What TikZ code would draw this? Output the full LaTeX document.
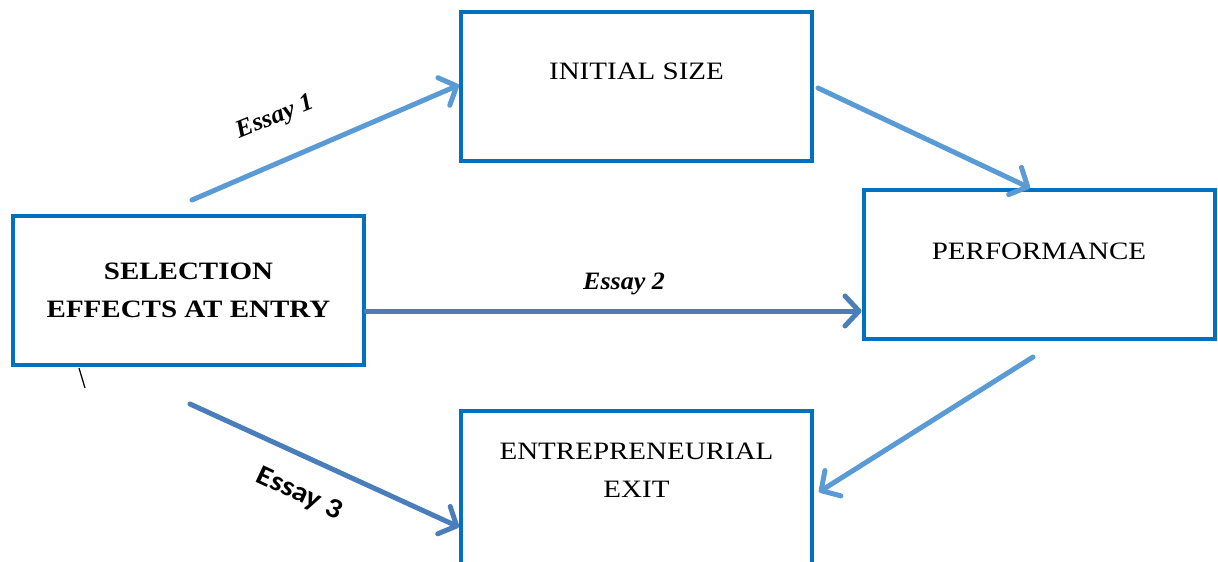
\documentclass[tikz,border=0pt]{standalone}
\usepackage{fontspec}
\setmainfont{Liberation Serif}[FakeStretch=1.16]
\newfontfamily\essayserif{Liberation Serif}[FakeStretch=1.04]
\newfontfamily\essaysans{Carlito}[FakeStretch=1.1]
\usetikzlibrary{positioning, arrows.meta}
\definecolor{frameblue}{RGB}{0, 112, 192}
\definecolor{pathlight}{RGB}{91, 155, 213}
\definecolor{pathdark}{RGB}{74, 126, 187}

\tikzset{
    stagebox/.style={draw=frameblue, line width=4pt, fill=white, align=center,
                     minimum width=351pt, minimum height=149pt, inner sep=0pt,
                     font=\fontsize{25}{38}\selectfont},
    link/.style={line width=5pt, line cap=round,
                 -{Straight Barb[length=14pt, width=30pt, line cap=round, line join=round]}},
    essaylabel/.style={font=\fontsize{25}{30}\selectfont\essayserif\bfseries\itshape, inner sep=0pt}
}

\begin{document}
\begin{tikzpicture}[x=1pt, y=-1pt]
        \useasboundingbox (0,0) rectangle (1218,562);
        % boxes
        \node[stagebox, font=\fontsize{25}{38}\selectfont\bfseries] (selection) at (188.5,290) {SELECTION\\EFFECTS AT ENTRY};
        \node[stagebox, text depth=30pt] (initsize) at (636.5,86) {INITIAL SIZE};
        \node[stagebox, text depth=27pt] (performance) at (1039,264.5) {PERFORMANCE};
        \node[stagebox, minimum height=162pt, text depth=44pt] (exit) at (636.5,492) {ENTREPRENEURIAL\\EXIT};
        % arrows
        \coordinate (essay1from) at (192,200);
        \coordinate (perfout) at (1033,357);
        \coordinate (essay3from) at (190,404);
        \draw[link, pathlight] (essay1from) -- ([yshift=1pt]initsize.west);
        \draw[link, pathlight] ([shift={(4pt,-2pt)}]initsize.east) -- ([xshift=-9pt]performance.north);
        \draw[link, pathdark] ([yshift=-21pt]selection.east) -- ([yshift=-21pt]selection.east -| performance.west);
        \draw[link, pathlight] (perfout) -- ([xshift=5pt]exit.east);
        \draw[link, pathdark] (essay3from) -- ([yshift=-35pt]exit.west);
        % labels
        \node[essaylabel, rotate=22] (essay1) at (275,118) {Essay 1};
        \node[essaylabel] (essay2) at (624,284) {Essay 2};
        \node[essaylabel, font=\fontsize{28}{32}\selectfont\essaysans\bfseries, rotate=-25] (essay3) at (299,494) {Essay 3};
        \draw[line width=1.2pt] (79,368) -- (85,388);
    \end{tikzpicture}
\end{document}
